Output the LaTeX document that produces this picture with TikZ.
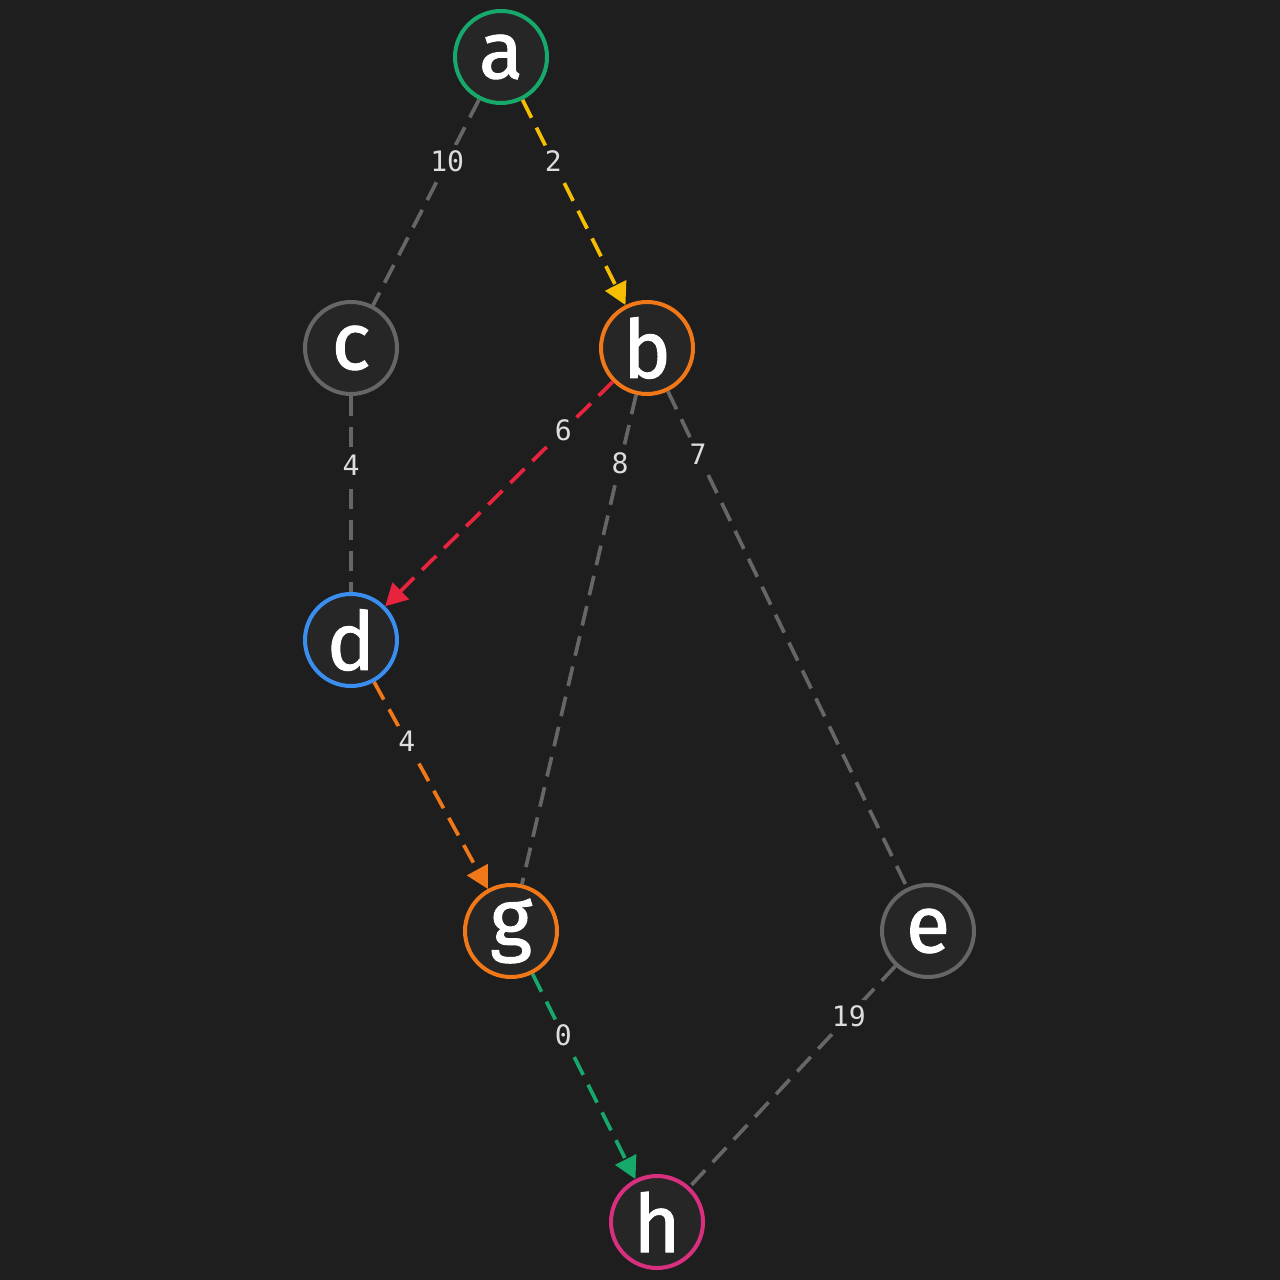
\documentclass[tikz,border=0pt]{standalone}
\usepackage{fontspec}
\setmainfont{Fira Sans}
\newfontfamily\labfont{DejaVu Sans Mono}
\newfontfamily\nodefont[FakeBold=1.2]{Fira Sans}
\usetikzlibrary{arrows.meta}
\definecolor{bgc}{HTML}{1E1E1E}
\definecolor{nodefill}{HTML}{262626}
\definecolor{cgreen}{HTML}{17A86B}
\definecolor{cyellow}{HTML}{F5BE00}
\definecolor{corange}{HTML}{F07818}
\definecolor{cred}{HTML}{E8233D}
\definecolor{cblue}{HTML}{3A8EF0}
\definecolor{cgray}{HTML}{666666}
\definecolor{cpink}{HTML}{D8307F}
\definecolor{labtext}{HTML}{DDDDDD}
\tikzset{
  vert/.style={circle, minimum size=0.92cm, inner sep=0pt, line width=0.04cm,
    fill=nodefill, text=white, font=\nodefont\fontsize{23}{23}\selectfont},
  edge/.style={line width=0.037cm, dash pattern=on 0.2cm off 0.11cm},
  arr/.style={edge, -{Triangle[length=0.22cm,width=0.23cm]}},
  wlab/.style={fill=bgc, text=labtext, rounded corners=2pt, inner sep=1.5pt,
    font=\labfont\fontsize{8}{8}\selectfont}
}
\begin{document}
\begin{tikzpicture}
\fill[bgc] (0,0) rectangle (12.8,-12.8);
\useasboundingbox (0,0) rectangle (12.8,-12.8);
\node[vert, draw=cgreen] (a) at (5.01,-0.57) {a};
\node[vert, draw=cgray] (c) at (3.51,-3.48) {c};
\node[vert, draw=corange] (b) at (6.47,-3.48) {b};
\node[vert, draw=cblue] (d) at (3.51,-6.40) {d};
\node[vert, draw=corange] (g) at (5.11,-9.31) {g};
\node[vert, draw=cgray] (e) at (9.28,-9.31) {e};
\node[vert, draw=cpink] (h) at (6.57,-12.22) {h};
\draw[edge, cgray] (a) -- node[wlab, pos=0.30] {10} (c);
\draw[arr, cyellow] (a) -- node[wlab, pos=0.30] {2} (b);
\draw[edge, cgray] (c) -- node[wlab, pos=0.353] {4} (d);
\draw[arr, cred] (b) -- node[wlab, pos=0.217] {6} (d);
\draw[edge, cgray] (b) -- node[wlab, pos=0.141] {8} (g);
\draw[edge, cgray] (b) -- node[wlab, pos=0.126] {7} (e);
\draw[arr, corange] (d) -- node[wlab, pos=0.287] {4} (g);
\draw[arr, cgreen] (g) -- node[wlab, pos=0.30] {0} (h);
\draw[edge, cgray] (e) -- node[wlab, pos=0.226] {19} (h);
\end{tikzpicture}
\end{document}
